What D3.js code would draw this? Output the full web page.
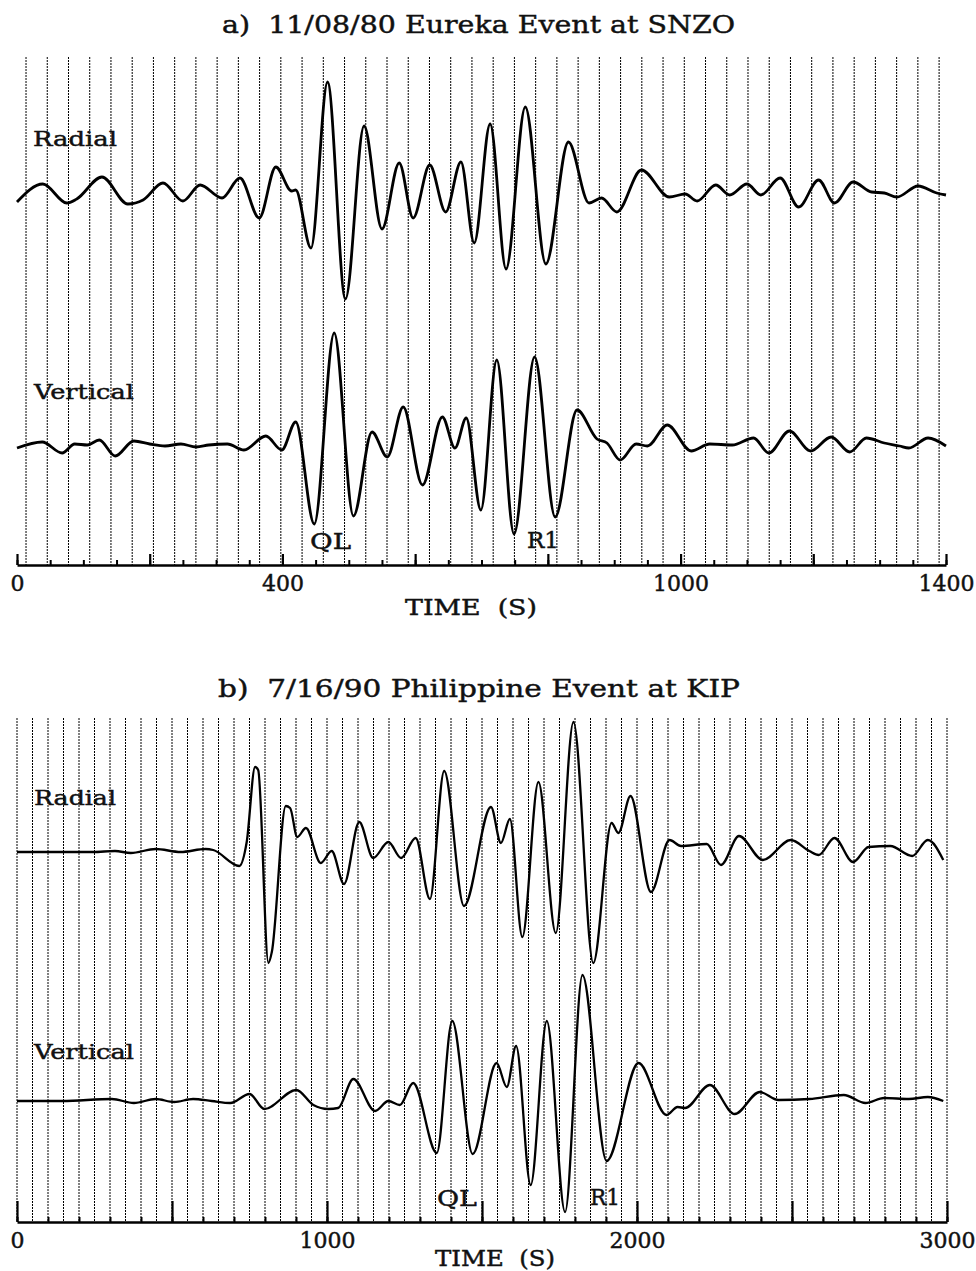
<!DOCTYPE html>
<html><head><meta charset="utf-8">
<script src="https://cdn.jsdelivr.net/npm/d3@7"></script>
<style>
body{margin:0;background:#fff}
svg{display:block}
text{font-family:"DejaVu Serif","Liberation Serif",serif;fill:#111;stroke:#111;stroke-width:0.45px;white-space:pre}
</style>
</head><body>
<svg id="c" width="976" height="1271"></svg>
<script>
// ---------- Panel a) 11/08/80 Eureka Event at SNZO ----------
const titleA = "a)  11/08/80 Eureka Event at SNZO";
const radialA_t   = [0,39,75,90,128,167,190,220,250,276,309,336,365,390,414,420,443,468,495,523,550,576,597,622,646,669,689,713,737,766,797,831,862,881,904,941,983,1007,1025,1053,1074,1100,1121,1150,1178,1208,1232,1260,1288,1307,1326,1358,1386,1400];
const radialA_amp = [-7,11,-8,-4,18,-9,-5,12,-6,10,-3,17,-23,28,4,5,-53,113,-104,69,-34,32,-23,30,-17,33,-48,71,-74,88,-69,53,-8,-3,-17,25,-2,1,-6,10,0,11,0,17,-12,15,-8,13,3,2,-2,9,2,0];
const verticalA_t   = [0,38,68,87,106,124,148,176,200,223,247,270,289,317,342,375,399,420,448,478,507,535,558,582,611,641,660,677,699,723,749,780,811,844,874,889,909,933,950,980,1016,1044,1078,1110,1133,1164,1196,1227,1255,1280,1307,1330,1344,1373,1400];
const verticalA_amp = [-3,3,-8,1,0,5,-11,4,1,-1,1,-2,0,1,-5,9,-5,23,-79,112,-71,13,-12,38,-40,28,-3,27,-65,85,-89,88,-72,35,6,2,-15,1,-1,20,-6,1,0,7,-8,14,-6,8,-7,7,2,-1,-3,7,-1];
const ticksMinorA = d3.range(0, 1401, 50);
const ticksMajorA = d3.range(0, 1401, 200);
const tickLabelsA = [0, 400, 1000, 1400];
const gridStartA = 13.6, gridStepA = 32;

// ---------- Panel b) 7/16/90 Philippine Event at KIP ----------
const titleB = "b)  7/16/90 Philippine Event at KIP";
const radialB_t   = [0,246,316,367,447,528,608,633,717,741,768,778,811,822,867,881,904,932,980,1015,1055,1104,1149,1198,1239,1286,1332,1378,1442,1529,1561,1590,1630,1682,1738,1795,1859,1918,1940,1979,2045,2105,2142,2225,2271,2329,2406,2496,2556,2586,2637,2697,2747,2817,2888,2938,2988];
const radialB_amp = [-2,-2,-1,-3,1,-2,1,0,-16,8,83,80,-113,-102,44,42,13,22,-13,-1,-34,28,-8,8,-8,12,-49,79,-56,43,7,31,-87,68,-83,128,-113,27,17,54,-42,10,4,6,-15,14,-10,10,-1,-5,12,-12,3,4,-6,10,-10];
const verticalB_t   = [0,146,306,377,447,507,568,628,688,750,798,901,956,1004,1036,1085,1155,1198,1235,1278,1354,1404,1470,1547,1580,1610,1657,1709,1768,1824,1902,2005,2095,2131,2155,2235,2315,2396,2456,2556,2667,2737,2797,2877,2938,2988];
const verticalB_amp = [-1,-1,1,-3,1,-2,1,-1,-3,6,-9,10,-5,-9,-8,21,-11,-1,-5,17,-53,79,-54,37,13,54,-85,79,-112,125,-61,37,-15,-7,-8,15,-14,8,0,1,5,-3,2,1,3,-1];
const ticksMinorB = d3.range(0, 3001, 100);
const ticksMajorB = d3.range(0, 3001, 500);
const tickLabelsB = [0, 1000, 2000, 3000];
const gridStartB = 0, gridStepB = 50;

const svg = d3.select("#c");

function drawPanel(p) {
  const x = d3.scaleLinear().domain(p.domain).range([17, p.xEnd]);
  const g = svg.append("g");

  // dotted time grid
  const grid = d3.range(p.gridStart, p.domain[1] + 0.01, p.gridStep);
  g.append("g").selectAll("line").data(grid).join("line")
    .attr("x1", d => x(d)).attr("x2", d => x(d))
    .attr("y1", p.gridTop).attr("y2", p.axisY)
    .attr("stroke", "#000").attr("stroke-width", 1)
    .attr("stroke-dasharray", "2,1");

  // traces
  p.traces.forEach(tr => {
    const y = d3.scaleLinear().domain([-100, 100]).range([tr.base + 100, tr.base - 100]);
    const data = d3.zip(tr.t, tr.amp);
    const line = d3.line().x(d => x(d[0])).y(d => y(d[1])).curve(d3.curveMonotoneX);
    g.append("path").datum(data).attr("d", line)
      .attr("fill", "none").attr("stroke", "#000")
      .attr("stroke-width", p.lineW).attr("stroke-linejoin", "round");
    g.append("text").text(tr.label)
      .attr("x", tr.lx).attr("y", tr.ly)
      .attr("font-size", 20).attr("textLength", tr.lw).attr("lengthAdjust", "spacingAndGlyphs");
  });

  // axis: minor ticks
  const ax1 = g.append("g").attr("transform", `translate(0,${p.axisY})`)
    .call(d3.axisTop(x).tickValues(p.minor).tickSize(p.minorLen).tickSizeOuter(0).tickFormat(""));
  ax1.select(".domain").attr("stroke-width", 2.6).attr("stroke", "#000");
  ax1.selectAll(".tick line").attr("stroke-width", 2).attr("stroke", "#000");
  // major ticks
  const ax2 = g.append("g").attr("transform", `translate(0,${p.axisY})`)
    .call(d3.axisTop(x).tickValues(p.major).tickSize(p.majorLen).tickSizeOuter(0).tickFormat(""));
  ax2.select(".domain").remove();
  ax2.selectAll(".tick line").attr("stroke-width", 2.2).attr("stroke", "#000");
  // labels
  const ax3 = g.append("g").attr("transform", `translate(0,${p.axisY})`)
    .call(d3.axisBottom(x).tickValues(p.labels).tickSize(0).tickFormat(d3.format("d")));
  ax3.select(".domain").remove();
  ax3.selectAll("text").attr("y", p.labelDy).attr("dy", 0)
    .attr("font-family", "DejaVu Serif").attr("font-size", 22).attr("fill", "#111");

  // axis title
  g.append("text").text("TIME  (S)")
    .attr("x", p.tx).attr("y", p.ty).attr("font-size", 22)
    .attr("textLength", p.tw).attr("lengthAdjust", "spacingAndGlyphs");

  // phase labels
  p.phases.forEach(ph => {
    g.append("text").text(ph.label).attr("x", ph.x).attr("y", ph.y)
      .attr("font-size", 23).attr("textLength", ph.w).attr("lengthAdjust", "spacingAndGlyphs");
  });

  // title
  g.append("text").text(p.title).attr("x", p.titleX).attr("y", p.titleY)
    .attr("font-size", 25).attr("textLength", p.titleW).attr("lengthAdjust", "spacingAndGlyphs");
}

drawPanel({
  domain: [0, 1400], xEnd: 946, axisY: 565, gridTop: 57,
  gridStart: gridStartA, gridStep: gridStepA, lineW: 2.8,
  traces: [
    {t: radialA_t, amp: radialA_amp, base: 195, label: "Radial", lx: 33, ly: 146, lw: 84},
    {t: verticalA_t, amp: verticalA_amp, base: 445, label: "Vertical", lx: 34, ly: 399, lw: 100}
  ],
  minor: ticksMinorA, major: ticksMajorA, minorLen: 5, majorLen: 11, labels: tickLabelsA, labelDy: 26,
  tx: 405, ty: 615, tw: 132,
  phases: [{label: "QL", x: 310, y: 549, w: 41}, {label: "R1", x: 527, y: 548, w: 32}],
  title: titleA, titleX: 222, titleY: 33, titleW: 513
});

drawPanel({
  domain: [0, 3000], xEnd: 947, axisY: 1222, gridTop: 718,
  gridStart: gridStartB, gridStep: gridStepB, lineW: 2.3,
  traces: [
    {t: radialB_t, amp: radialB_amp, base: 850, label: "Radial", lx: 34, ly: 805, lw: 82},
    {t: verticalB_t, amp: verticalB_amp, base: 1100, label: "Vertical", lx: 34, ly: 1059, lw: 100}
  ],
  minor: ticksMinorB, major: ticksMajorB, minorLen: 5, majorLen: 21, labels: tickLabelsB, labelDy: 26,
  tx: 435, ty: 1266, tw: 120,
  phases: [{label: "QL", x: 437, y: 1206, w: 40}, {label: "R1", x: 590, y: 1205, w: 30}],
  title: titleB, titleX: 218, titleY: 697, titleW: 522
});
</script>
</body></html>
